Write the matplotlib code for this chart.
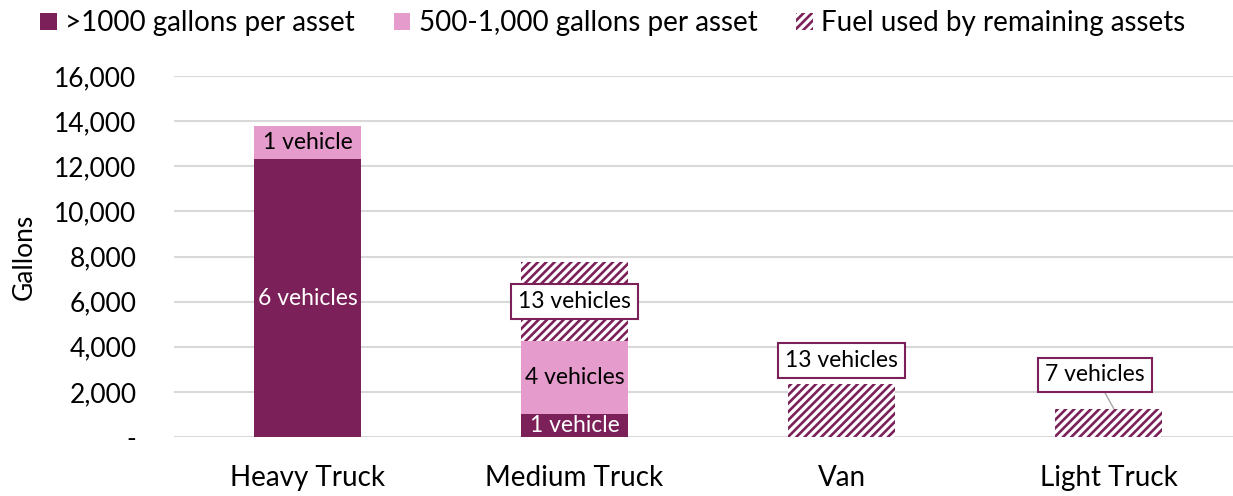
import matplotlib.pyplot as plt

categories = ["Heavy Truck", "Medium Truck", "Van", "Light Truck"]
over_1000 = [12300, 1000, 0, 0]
mid_500_1000 = [1500, 3250, 0, 0]
remaining = [0, 3500, 2350, 1250]

over_labels = ["6 vehicles", "1 vehicle", "", ""]
mid_labels = ["1 vehicle", "4 vehicles", "", ""]
rem_labels = ["", "13 vehicles", "13 vehicles", "7 vehicles"]

DARK = "#7B2058"
PINK = "#E59BCB"

plt.rcParams["font.family"] = ["Lato", "DejaVu Sans"]
plt.rcParams["hatch.linewidth"] = 1.9

fig = plt.figure(figsize=(12.33, 4.96), dpi=100)
ax = fig.add_axes([174 / 1233, 1 - 437 / 496, 1068 / 1233, 361 / 496])

x = range(len(categories))
w = 0.4
b1 = ax.bar(x, over_1000, width=w, color=DARK, label=">1000 gallons per asset", zorder=2)
b2 = ax.bar(x, mid_500_1000, width=w, bottom=over_1000, color=PINK,
            label="500-1,000 gallons per asset", zorder=2)
bottoms = [a + b for a, b in zip(over_1000, mid_500_1000)]
b3 = ax.bar(x, remaining, width=w, bottom=bottoms, color="white", edgecolor=DARK,
            hatch="////", linewidth=0, label="Fuel used by remaining assets", zorder=2)

fs = 16.5
for i in x:
    if over_labels[i]:
        ax.text(i, over_1000[i] / 2, over_labels[i], ha="center", va="center",
                color="white", fontsize=fs, zorder=3)
    if mid_labels[i]:
        ax.text(i, over_1000[i] + mid_500_1000[i] / 2, mid_labels[i], ha="center",
                va="center", color="black", fontsize=fs, zorder=3)

box = dict(boxstyle="square,pad=0.3", facecolor="white", edgecolor=DARK, linewidth=1.5)
# medium truck: label centred on the hatched segment
ax.text(1, bottoms[1] + remaining[1] / 2, rem_labels[1], ha="center", va="center",
        fontsize=fs, bbox=box, zorder=4)
# van: label above bar
ax.text(2, bottoms[2] + remaining[2] + 1050, rem_labels[2], ha="center", va="center",
        fontsize=fs, bbox=box, zorder=4)
# light truck: label above bar with leader line
ax.annotate(rem_labels[3], xy=(3.02, bottoms[3] + remaining[3]),
            xytext=(2.95, bottoms[3] + remaining[3] + 1500), ha="center", va="center",
            fontsize=fs, bbox=box, zorder=4,
            arrowprops=dict(arrowstyle="-", color="#A6A6A6", linewidth=1,
                            shrinkA=0, shrinkB=0))

ax.set_ylim(0, 16000)
ax.set_xlim(-0.5, 3.5)
ticks = list(range(0, 16001, 2000))
ax.set_yticks(ticks)
ax.set_yticklabels(["-"] + [f"{t:,}" for t in ticks[1:]])
ax.set_xticks(list(x))
ax.set_xticklabels(categories)
ax.tick_params(axis="both", length=0, labelsize=19)
ax.tick_params(axis="x", labelsize=20, pad=20)
ax.tick_params(axis="y", pad=27)
ax.grid(axis="y", color="#D9D9D9", linewidth=1.5, zorder=0)
ax.set_axisbelow(True)
for s in ax.spines.values():
    s.set_visible(False)
fig.text(24 / 1233, 1 - 257 / 496, "Gallons", rotation=90, ha="center", va="center",
         fontsize=19)

fig.legend(handles=[b1, b2, b3], loc="upper center", bbox_to_anchor=(0.497, 1.03),
           ncol=3, frameon=False, fontsize=20, handlelength=0.6, handleheight=0.6,
           handletextpad=0.3, columnspacing=1.4)

fig.savefig("out.png", dpi=100)
